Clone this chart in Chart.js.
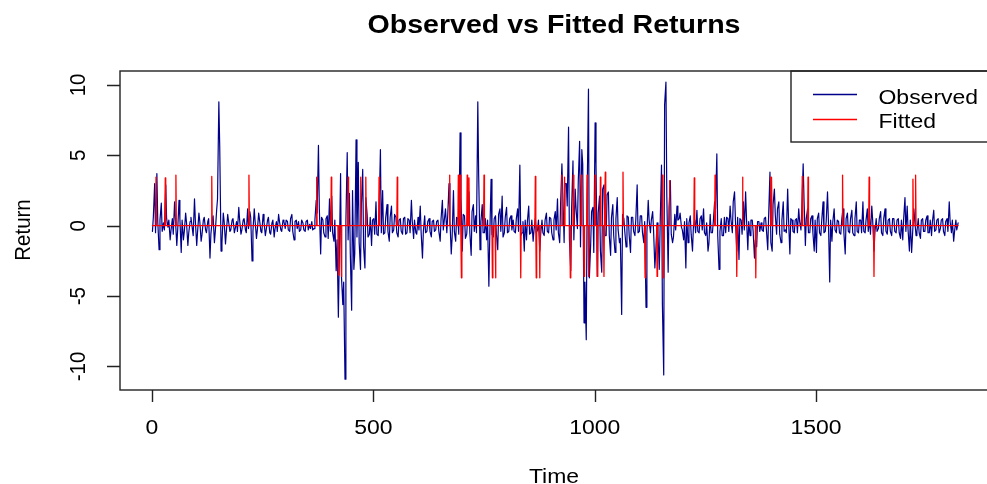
<!DOCTYPE html>
<html>
<head>
<meta charset="utf-8">
<script src="https://cdn.jsdelivr.net/npm/chart.js@4"></script>
<style>
  html, body { margin: 0; padding: 0; background: #fff; }
  canvas { display: block; }
</style>
</head>
<body>
<canvas id="chart" width="987" height="484"></canvas>
<script>
// observed returns: main readings at t = 1, 6, 11, ...
// and in-between readings at t = 3, 8, 13, ...
const obsStep = 5;
const obsStart = 1;
const midStart = 3;
const observedA = [ // t 1 - 296
  -0.4, 3.0, 3.7, -1.7, 1.6, 0.2, 2.9, -0.1, -1.0, 0.5,
  1.7, -1.4, 1.8, -1.9, -1.0, 0.9, -1.4, 0.3, -0.2, 1.9,
  -1.4, 0.9, -1.1, 0.4, -0.3, 0.3, -2.3, 0.4, -1.2, 1.1,
  8.8, -1.8, 0.9, -1.3, 0.8, -0.4, 0.4, -0.5, 0.3, 1.3,
  -0.6, 0.4, -0.3, 1.2, 1.0, -2.5, 1.2, -0.9, 0.9, -0.4,
  0.8, -0.7, 0.4, -0.5, 0.2, -0.8, 0.3, 0.8, -0.3, 0.4
];
const observedB = [ // t 301 - 631
  -0.2, 0.3, -0.4, 0.8, -1.0, 0.4, 0.3, -0.3, 0.2, -0.4,
  0.4, 0.1, 0.3, -0.2, 1.8, 5.7, -2.0, 0.4, -0.8, 0.7,
  1.9, 2.1, -1.1, -3.2, -6.5, 3.7, -5.6, -10.9, 5.2, 2.3,
  -6.0, -3.1, 6.1, 4.5, -3.1, 4.0, -3.0, 0.8, -0.6, -1.4,
  0.5, 1.7, -0.7, 5.4, 2.5, -0.5, 1.5, -1.1, 1.4, -0.3,
  0.6, -0.8, 0.5, -0.6, 0.6, -0.5, 0.4, 1.8, -0.9, -0.5,
  0.6, 1.4, -2.3, 0.7, -0.4, 0.5, -0.8
];
const observedC = [ // t 636 - 961
  0.4, -0.3, 0.4, -1.1, 1.8, 0.6, -0.5, 3.0, -2.0, 2.5,
  -1.1, 0.5, 6.6, -1.8, 0.7, -0.6, 2.4, -2.1, 1.5, 0.7,
  8.8, -1.7, 1.5, -0.5, -1.0, -4.3, 3.3, -0.8, 0.7, -1.7,
  1.2, 2.1, -0.5, 1.3, -0.4, 0.7, 0.4, -0.5, 1.2, 4.3,
  -0.5, -1.8, -1.0, 1.4, -0.5, -1.1, 0.5, -0.3, -1.8, 0.4,
  -0.7, 0.9, -0.5, 0.5, -1.0, 1.0, 1.9, -1.2, 4.4, -1.2,
  3.0, 7.0, -3.2, 4.6, 2.6, -0.2
];
const observedD = [ // t 966 - 1291
  6.0, 5.4, -6.9, -8.1, 9.7, -1.3, 1.3, 7.3, -3.6, 2.1,
  -3.3, 2.9, -0.7, 2.4, -2.1, 1.5, -1.9, 2.0, -1.2, -6.3,
  0.5, -1.5, 0.6, -1.9, 0.6, -0.7, 2.9, -0.4, 0.7, -1.2,
  -5.8, 1.8, -0.5, 1.0, -3.0, 0.2, -3.1, 4.3, -10.6, 10.2,
  -3.3, 3.2, -1.2, 0.8, 1.4, 0.5, -0.1, -1.0, -3.0, -1.2,
  0.7, -1.8, 0.4, 1.1, -0.5, 0.7, 1.2, -0.7, -1.8, 0.8,
  -0.5, 1.7, 5.1, -3.1, 0.5, -0.7
];
const observedE = [ // t 1296 - 1616
  -0.5, 0.5, 1.4, -0.5, 2.4, -1.8, -2.4, 0.4, 1.7, 2.4,
  -1.7, -0.7, 0.4, -2.3, -1.5, 0.3, 0.2, -0.4, 0.6, -1.7,
  3.8, -1.8, 2.6, -0.6, 1.7, -1.2, 1.7, -0.3, 2.6, -2.0,
  0.4, -0.5, 0.5, 1.2, -0.3, 4.4, -1.4, 1.2, -0.5, 0.7,
  -1.8, -1.9, 0.9, -0.7, 1.7, -0.4, 2.4, -4.0, -1.1, 1.2,
  -0.5, 0.3, -0.6, 1.2, -2.0, 0.9, -0.5, 1.1, -0.7, 1.7,
  -0.5, 0.4, 1.7, -0.5, 1.2
];
const observedF = [ // t 1621 - 1821
  0.5, 1.4, -1.8, 0.5, -0.2, 1.0, -0.7, 1.2, -0.6, 0.5,
  -0.7, 0.5, -0.5, 0.5, -0.9, -1.0, 2.0, 1.4, -1.8, -1.9,
  1.2, -0.7, 0.5, -0.9, 0.5, -0.4, 0.7, -0.5, -0.7, 1.1,
  -0.3, 0.5, -0.2, 0.5, -0.7, 0.5, 1.7, -0.5, -1.1, 0.4,
  0.2
];

const observedMidA = [ // t 3 - 298
  0.6, -0.5, 0.3, 0.4, -0.4, -0.3, 0.5, 0.4, -0.3, -0.6,
  0.4, -0.3, 0.5, 0.4, -0.4, 0.2, -0.5, 0.6, -0.7, 0.3,
  -0.4, 0.3, -0.6, 0.6, -0.5, 0.5, -0.6, 0.7, -0.4, 1.9,
  5.6, -1.2, 0.3, -0.4, 0.3, -0.3, 0.5, -0.2, -0.4, 0.4,
  -0.3, 0.5, -0.5, -0.2, 0.6, -0.4, 0.3, -0.3, 0.4, -0.5,
  0.3, -0.3, 0.6, -0.6, 0.4, -0.2, -0.4, 0.3, -0.4, 0.3
];
const observedMidB = [ // t 303 - 633
  0.4, -0.3, 0.5, -0.4, 0.3, -0.2, -0.4, 0.4, -0.3, 0.3,
  -0.3, -0.2, -0.3, 0.4, 0.9, 1.2, 0.6, -0.5, 0.5, -0.9,
  -0.4, -0.5, 0.4, -1.0, -2.5, -3.6, -4.0, 0.3, -1.0, -2.0,
  2.5, -2.0, -0.8, -1.2, 1.5, -1.5, 2.0, -0.8, 0.6, 0.4,
  -0.6, -0.6, 1.0, -0.5, -0.6, 0.6, -0.4, 0.6, -0.5, 0.8,
  -0.5, 0.4, -0.4, 0.5, -0.6, 0.5, -0.5, 0.3, 0.4, -0.6,
  -0.3, -0.5, -0.4, -0.5, 0.3, -0.4, 0.3
];
const observedMidC = [ // t 638 - 963
  -0.4, 0.3, -0.4, 0.5, -0.3, 1.2, 0.7, 0.4, -0.8, -0.4,
  0.6, -0.6, 2.0, 0.8, -0.9, 0.6, -0.5, 1.0, -0.4, -0.5,
  3.5, 0.3, -0.5, 0.5, 0.4, -0.8, -0.6, 0.5, -0.6, 0.8,
  -0.4, -0.8, 0.6, -0.5, 0.5, -0.3, -0.4, 0.5, -0.4, -0.7,
  0.3, 0.4, 0.3, -0.6, 0.4, -0.3, -0.5, 0.4, -0.6, -0.5,
  0.4, -0.4, 0.6, -0.5, 0.4, -0.3, -0.5, 1.5, 2.3, 3.0,
  1.4, -1.0, 1.3, -1.0, 1.2, 3.2
];
const observedMidD = [ // t 968 - 1293
  -1.5, 4.4, -4.0, 2.0, -3.7, 1.0, -1.9, 4.4, 0.9, -1.8,
  2.6, -0.7, 2.2, -0.7, 0.6, -0.7, 0.5, -0.3, -0.9, 0.8,
  -0.4, 0.7, -0.7, 0.6, -0.4, 0.5, -0.5, 0.7, -0.5, 0.3,
  -0.5, 0.4, 0.4, -0.3, -1.8, -0.6, 0.2, -5.6, 8.6, 2.1,
  1.3, -0.6, -0.8, -0.3, 0.4, 0.9, -0.3, 0.3, 0.5, 0.2,
  -0.6, -0.1, -0.5, -0.4, 0.5, -0.3, -0.5, 0.2, -1.3, -0.5,
  0.3, 1.2, -0.7, -0.4, -0.7, 0.6
];
const observedMidE = [ // t 1298 - 1618
  0.6, -0.4, 0.4, 1.7, 0.4, 0.6, 0.5, -0.6, -0.3, 0.5,
  0.3, 0.4, -0.4, -1.0, 0.3, -0.4, -0.3, 0.5, -0.3, 0.7,
  -1.2, 1.5, 0.8, 1.2, -0.6, 0.4, -0.4, -0.5, 0.4, 0.5,
  -0.4, 0.4, -0.5, 0.3, 1.2, 1.8, 0.5, -0.5, 0.5, -0.5,
  0.4, 0.5, -0.5, 0.4, -0.5, 0.3, 0.4, 0.4, 0.3, -0.3,
  0.4, -0.5, 0.4, -0.5, 0.5, -0.4, 0.5, -0.5, 0.5, -0.4,
  0.4, -0.5, -0.4, 0.4, -0.4
];
const observedMidF = [ // t 1623 - 1818
  -0.6, 0.4, -0.5, -0.4, 0.5, -0.5, 0.5, -0.4, 0.4, -0.4,
  0.5, -0.4, 0.4, -0.5, 0.4, 0.5, -0.4, -0.3, 0.4, -0.7,
  0.4, -0.4, -0.5, 0.4, -0.4, 0.4, -0.5, 0.4, 0.3, -0.4,
  0.4, -0.5, 0.4, -0.4, 0.3, -0.4, 0.3, 0.4, -0.4, -0.3
];

// fitted returns: ~0 everywhere except these spikes
const fitStart = 1;
const fitEnd = 1821;
const fitTimes = [9, 30, 54, 135, 219, 372, 405, 421, 428, 443, 471, 483, 513, 554,
  672, 692, 696, 699, 712, 716, 750, 769, 776, 833, 866, 868, 876, 926, 932, 945, 952,
  970, 976, 983, 986, 1001, 1006, 1013, 1021, 1024, 1064, 1114, 1141, 1153, 1155, 1169,
  1225, 1272, 1321, 1334, 1364, 1398, 1400, 1469, 1482, 1560, 1620, 1631, 1719, 1725];
const fitValues = [3.45, 3.4, 3.6, 3.5, 3.6, 3.45, 3.45, -3.5, -3.6, 3.45, 3.45, 3.45, 3.45, 3.45,
  3.6, 3.6, 3.6, -3.7, 3.6, 3.4, 3.6, -3.7, -3.7, -3.7, 3.5, -3.7, -3.7, 3.6, 3.45, -3.7, 3.6,
  3.6, -3.6, 3.6, -3.6, 3.6, -3.6, 3.45, -3.6, 3.8, 3.8, -3.7, -3.6, 3.6, -3.7, 3.2,
  3.4, 3.6, -3.6, 3.45, -3.7, 3.45, 3.45, 3.5, 3.45, 3.6, 3.45, -3.6, 3.3, 3.6];

const xTicks = [0, 500, 1000, 1500];
const yTicks = [-10, -5, 0, 5, 10];
const titleText = "Observed vs Fitted Returns";
const xTitle = "Time";
const yTitle = "Return";
const legendItems = [["Observed", "#00008b"], ["Fitted", "#ff0000"]];

const observed = [...observedA, ...observedB, ...observedC, ...observedD, ...observedE, ...observedF];
const observedMid = [...observedMidA, ...observedMidB, ...observedMidC, ...observedMidD, ...observedMidE, ...observedMidF];
const obsPts = [
  ...observed.map((v, i) => ({ x: obsStart + i * obsStep, y: v })),
  ...observedMid.map((v, i) => ({ x: midStart + i * obsStep, y: v }))
].sort((a, b) => a.x - b.x);

const fitPts = [{ x: fitStart, y: 0 }];
fitTimes.forEach((t, i) => {
  fitPts.push({ x: t - 1, y: 0 }, { x: t, y: fitValues[i] }, { x: t + 1, y: 0 });
});
fitPts.push({ x: fitEnd, y: 0 });

const SX = 1.12; // the picture is a little wider than tall
const FONT = '"Liberation Sans", Arial, sans-serif';

function txt(ctx, s, x, y, font, align, rot) {
  ctx.save();
  ctx.translate(x, y);
  ctx.scale(SX, 1);
  if (rot) ctx.rotate(-Math.PI / 2);
  ctx.font = font;
  ctx.textAlign = align;
  ctx.textBaseline = "alphabetic";
  ctx.fillStyle = "#000";
  ctx.fillText(s, 0, 0);
  ctx.restore();
}

const frame = {
  id: "frame",
  afterDraw(chart) {
    const { ctx, chartArea: a, scales } = chart;
    const xs = scales.x, ys = scales.y;
    ctx.save();
    ctx.strokeStyle = "#222";
    ctx.lineWidth = 1.4;
    ctx.strokeRect(a.left, a.top, 870, a.bottom - a.top);
    ctx.beginPath();
    xTicks.forEach((t) => {
      const px = Math.round(xs.getPixelForValue(t)) + 0.5;
      ctx.moveTo(px, a.bottom);
      ctx.lineTo(px, a.bottom + 12);
    });
    yTicks.forEach((t) => {
      const py = Math.round(ys.getPixelForValue(t)) + 0.5;
      ctx.moveTo(a.left, py);
      ctx.lineTo(a.left - 13, py);
    });
    ctx.stroke();

    xTicks.forEach((t) => txt(ctx, String(t), xs.getPixelForValue(t), 434, "20.5px " + FONT, "center"));
    yTicks.forEach((t) => txt(ctx, String(t), 85, ys.getPixelForValue(t), "20.5px " + FONT, "center", true));
    txt(ctx, xTitle, 554, 483, "20.5px " + FONT, "center");
    txt(ctx, yTitle, 30, 230, "20.5px " + FONT, "center", true);
    txt(ctx, titleText, 554, 33, "bold 25.5px " + FONT, "center");

    // legend box
    ctx.strokeRect(791, a.top, 300, 71);
    legendItems.forEach(([name, col], i) => {
      const ly = 94.5 + i * 25;
      ctx.strokeStyle = col;
      ctx.lineWidth = 1.3;
      ctx.beginPath();
      ctx.moveTo(813, ly);
      ctx.lineTo(857, ly);
      ctx.stroke();
      txt(ctx, name, 878.5, 104.3 + i * 24, "20.5px " + FONT, "left");
    });
    ctx.restore();
  }
};

new Chart(document.getElementById("chart"), {
  type: "line",
  data: {
    datasets: [
      { label: "Fitted", data: fitPts, borderColor: "#ff0000", borderWidth: 1.3, pointRadius: 0, order: 1 },
      { label: "Observed", data: obsPts, borderColor: "#00008b", borderWidth: 1.2, pointRadius: 0, order: 2 }
    ]
  },
  options: {
    responsive: false,
    animation: false,
    devicePixelRatio: 1,
    layout: { padding: { left: 120, top: 71, right: 0, bottom: 94 } },
    elements: { line: { tension: 0, borderJoinStyle: "round", borderCapStyle: "round" } },
    plugins: { legend: { display: false }, tooltip: { enabled: false }, title: { display: false } },
    scales: {
      x: { type: "linear", min: -72.3, max: 1886.3, display: false },
      y: { type: "linear", min: -11.67, max: 10.99, display: false }
    }
  },
  plugins: [frame]
});
</script>
</body>
</html>
